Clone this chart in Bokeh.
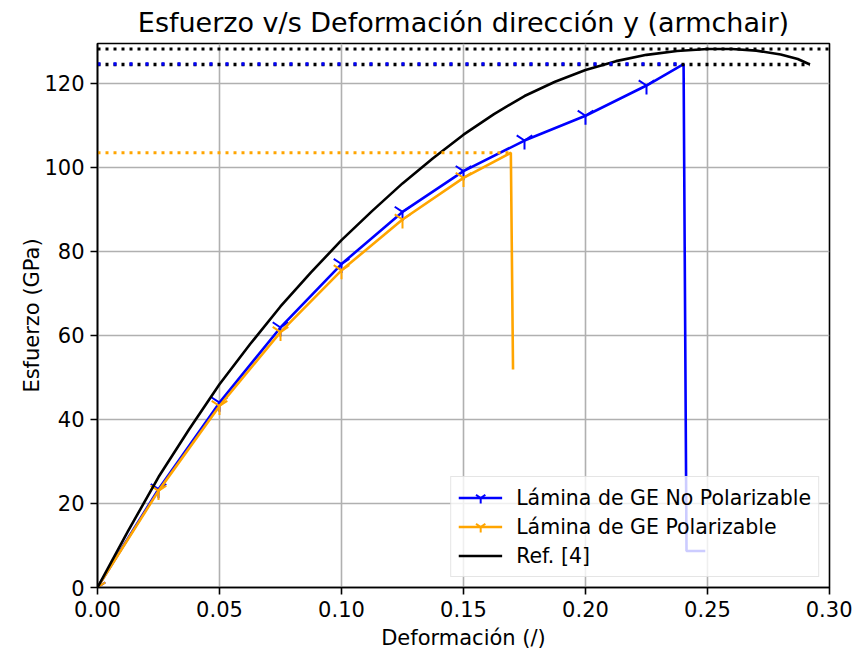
from bokeh.plotting import figure
from bokeh.models import Range1d, FixedTicker, Legend, LegendItem, NumeralTickFormatter
from bokeh.embed import file_html
from bokeh.resources import INLINE

# ---- data ----
# Lámina de GE No Polarizable
strain_np = [0.0, 0.025, 0.05, 0.075, 0.1, 0.125, 0.15, 0.175, 0.2, 0.225, 0.2402, 0.2414, 0.2491]
stress_np = [0.0, 23.4, 44.0, 61.9, 77.0, 89.4, 99.1, 106.4, 112.3, 119.5, 124.6, 8.7, 8.7]
n_markers_np = 10
# Lámina de GE Polarizable
strain_p = [0.0, 0.025, 0.05, 0.075, 0.1, 0.125, 0.15, 0.1694, 0.1703]
stress_p = [0.0, 23.0, 43.2, 60.8, 75.5, 87.6, 97.5, 103.5, 51.9]
n_markers_p = 7
# Ref. [4]
strain_ref = [0.0, 0.0125, 0.025, 0.0375, 0.05, 0.0625, 0.075, 0.0875, 0.1, 0.1125, 0.125,
              0.1375, 0.15, 0.1625, 0.175, 0.1875, 0.2, 0.2125, 0.225, 0.2375, 0.25, 0.26,
              0.27, 0.28, 0.287, 0.292]
stress_ref = [0.0, 13.4, 26.3, 37.6, 48.4, 57.9, 66.9, 75.0, 82.7, 89.6, 96.2,
              102.2, 107.8, 112.7, 117.0, 120.4, 123.2, 125.3, 126.8, 127.7, 128.2, 128.2,
              127.8, 126.9, 125.8, 124.5]

x_ticks = [0.0, 0.05, 0.10, 0.15, 0.20, 0.25, 0.30]
y_ticks = [0, 20, 40, 60, 80, 100, 120]
x_lim = (0.0, 0.30)
y_lim = (0.0, 129.5)

BLUE = "#0000ff"
ORANGE = "#ffa500"
BLACK = "#000000"
FONT = "DejaVu Sans"

p = figure(width=852, height=652, output_backend="svg", toolbar_location=None,
           x_range=Range1d(*x_lim), y_range=Range1d(*y_lim),
           min_border_left=97, min_border_right=23, min_border_top=41, min_border_bottom=65,
           title="Esfuerzo v/s Deformación dirección y (armchair)")

p.title.text_font = FONT
p.title.text_font_size = "27px"
p.title.text_font_style = "normal"
p.title.align = "center"
p.title.vertical_align = "middle"
p.title.text_color = BLACK
p.title.standoff = 10

p.outline_line_color = BLACK
p.outline_line_width = 1.6
p.outline_line_alpha = 1.0

for ax in (p.xaxis, p.yaxis):
    ax.axis_label_text_font = FONT
    ax.axis_label_text_font_size = "21px"
    ax.axis_label_text_font_style = "normal"
    ax.axis_label_text_color = BLACK
    ax.major_label_text_font = FONT
    ax.major_label_text_font_size = "21px"
    ax.major_label_text_color = BLACK
    ax.axis_line_color = BLACK
    ax.axis_line_width = 1.6
    ax.major_tick_line_color = BLACK
    ax.major_tick_line_width = 1.6
    ax.major_tick_in = 0
    ax.major_tick_out = 7
    ax.minor_tick_line_color = None
    ax.major_label_standoff = 6

p.xaxis.axis_label_standoff = 6
p.yaxis.axis_label_standoff = -3

p.xaxis.axis_label = "Deformación (/)"
p.yaxis.axis_label = "Esfuerzo (GPa)"
p.xaxis.ticker = FixedTicker(ticks=x_ticks)
p.yaxis.ticker = FixedTicker(ticks=y_ticks)
p.xaxis.formatter = NumeralTickFormatter(format="0.00")
p.yaxis.formatter = NumeralTickFormatter(format="0")

p.grid.grid_line_color = "#b0b0b0"
p.grid.grid_line_width = 1.6

# main curves
l_np = p.line(strain_np, stress_np, line_color=BLUE, line_width=2.6)
m_np = p.scatter(strain_np[:n_markers_np], stress_np[:n_markers_np], marker="y", size=18,
                 line_color=BLUE, line_width=2)
l_p = p.line(strain_p, stress_p, line_color=ORANGE, line_width=2.6)
m_p = p.scatter(strain_p[:n_markers_p], stress_p[:n_markers_p], marker="y", size=18,
                line_color=ORANGE, line_width=2)
l_ref = p.line(strain_ref, stress_ref, line_color=BLACK, line_width=2.6)

# dotted reference lines at peaks / end values
i_np = stress_np.index(max(stress_np))
i_p = stress_p.index(max(stress_p))
ref_max = max(stress_ref)
p.line([x_lim[0], x_lim[1]], [ref_max, ref_max], line_color=BLACK, line_width=3, line_dash="3 5")
p.line([x_lim[0], strain_ref[-1]], [stress_ref[-1], stress_ref[-1]], line_color=BLACK,
       line_width=3.5, line_dash="3 5")
p.line([x_lim[0], strain_np[i_np]], [stress_np[i_np], stress_np[i_np]], line_color=BLUE,
       line_width=3.5, line_dash="3 13")
p.line([x_lim[0], strain_p[i_p]], [stress_p[i_p], stress_p[i_p]], line_color=ORANGE,
       line_width=3, line_dash="3 5")

legend = Legend(items=[
    LegendItem(label="Lámina de GE No Polarizable", renderers=[l_np, m_np]),
    LegendItem(label="Lámina de GE Polarizable", renderers=[l_p, m_p]),
    LegendItem(label="Ref. [4]", renderers=[l_ref]),
], location="bottom_right", margin=10, padding=7, spacing=2,
    label_height=27, glyph_height=27, glyph_width=44, label_standoff=14,
    label_text_font=FONT, label_text_font_size="20.5px", label_text_color=BLACK,
    background_fill_color="white", background_fill_alpha=0.8,
    border_line_color="#cccccc", border_line_width=1.6)
p.add_layout(legend)

open("out.html", "w").write(file_html(p, INLINE))
